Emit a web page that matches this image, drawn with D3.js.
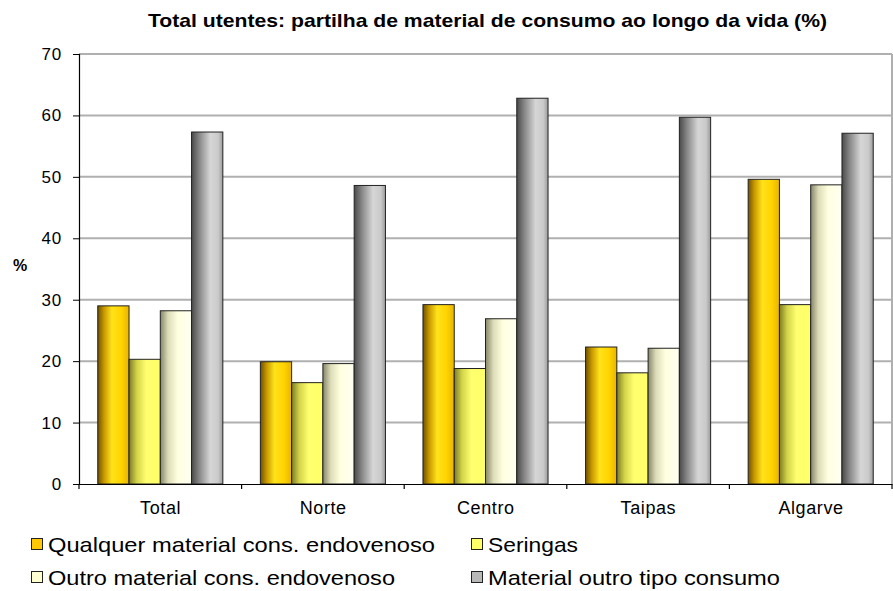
<!DOCTYPE html>
<html><head><meta charset="utf-8">
<script src="https://cdn.jsdelivr.net/npm/d3@7"></script>
<style>body{margin:0;background:#fff}svg{display:block;font-family:"Liberation Sans",Arial,sans-serif}</style>
</head><body><svg id="c" width="893" height="591"></svg>
<script>
const categories = ["Total","Norte","Centro","Taipas","Algarve"];
const seriesNames = ["Qualquer material cons. endovenoso","Seringas","Outro material cons. endovenoso","Material outro tipo consumo"];
const qualquer = [29.0, 19.9, 29.2, 22.3, 49.6];
const seringas = [20.3, 16.5, 18.8, 18.1, 29.2];
const outro    = [28.2, 19.6, 26.9, 22.1, 48.7];
const materialOutro = [57.3, 48.6, 62.8, 59.7, 57.1];
const yTicks = [0,10,20,30,40,50,60,70];
const series = [qualquer, seringas, outro, materialOutro];

const svg = d3.select("#c");
const m = {l:79, r:892, t:54, b:484};
const x0 = d3.scaleBand().domain(categories).range([m.l, m.r]).paddingInner(0).paddingOuter(0);
const x1 = d3.scaleBand().domain(d3.range(4)).range([0, x0.bandwidth()]).paddingInner(0).paddingOuter(0.6);
const y = d3.scaleLinear().domain([0,70]).range([m.b, m.t]);

// gradients
const defs = svg.append("defs");
const grads = [
  [["0%","#6e5200"],["20%","#c89800"],["45%","#ffe21a"],["75%","#ffd400"],["100%","#e8b400"]],
  [["0%","#7c7c28"],["25%","#d4d44a"],["55%","#ffff70"],["100%","#ffff66"]],
  [["0%","#86866a"],["25%","#dcdcb8"],["55%","#ffffe0"],["100%","#fffff2"]],
  [["0%","#4a4a4a"],["25%","#888888"],["60%","#d6d6d6"],["85%","#cacaca"],["100%","#9c9c9c"]]
];
grads.forEach((g,i)=>{
  const lg = defs.append("linearGradient").attr("id","g"+i).attr("x1","0").attr("x2","1").attr("y1","0").attr("y2","0");
  g.forEach(s=>lg.append("stop").attr("offset",s[0]).attr("stop-color",s[1]));
});
const legendFill = ["#ffc800","#ffff66","#ffffd0","#b8b8b8"];

// gridlines
svg.append("g").selectAll("line").data(yTicks.filter(d=>d>0)).join("line")
  .attr("x1",m.l).attr("x2",m.r).attr("y1",d=>y(d)).attr("y2",d=>y(d))
  .attr("stroke","#b0b0b0").attr("stroke-width",2);
// right border
svg.append("line").attr("x1",m.r).attr("x2",m.r).attr("y1",m.t).attr("y2",m.b).attr("stroke","#b0b0b0").attr("stroke-width",2);

// bars
const g = svg.append("g");
categories.forEach((c,ci)=>{
  series.forEach((s,si)=>{
    g.append("rect")
      .attr("x", x0(c)+x1(si))
      .attr("y", y(s[ci]))
      .attr("width", x1.bandwidth())
      .attr("height", y(0)-y(s[ci]))
      .attr("fill","url(#g"+si+")")
      .attr("stroke","#222").attr("stroke-width",1);
  });
});

// y axis
const ya = svg.append("g").attr("transform",`translate(${m.l},0)`)
  .call(d3.axisLeft(y).tickValues(yTicks).tickSize(6).tickPadding(11));
ya.select(".domain").attr("stroke","#000").attr("stroke-width",1.2);
ya.selectAll("text").attr("font-size",17).attr("fill","#000").attr("font-family","Liberation Sans, Arial").attr("letter-spacing",0.8);

// x axis
const xa = svg.append("g").attr("transform",`translate(0,${m.b})`)
  .call(d3.axisBottom(x0).tickSize(0).tickPadding(17));
xa.select(".domain").attr("stroke","#000").attr("stroke-width",1.2);
xa.selectAll("text").attr("font-size",18).attr("fill","#000").attr("font-family","Liberation Sans, Arial")
  .attr("letter-spacing",0.6).attr("dx",0.3);
svg.append("g").selectAll("line").data(categories.concat(["end"])).join("line")
  .attr("x1",(d,i)=>i<categories.length? x0(d): m.r).attr("x2",(d,i)=>i<categories.length? x0(d): m.r)
  .attr("y1",m.b).attr("y2",m.b+5).attr("stroke","#000").attr("stroke-width",1.2);

// title
svg.append("text").attr("x",148).attr("y",27)
  .attr("font-weight","bold").attr("font-size",19).attr("textLength",679).attr("lengthAdjust","spacingAndGlyphs")
  .text("Total utentes: partilha de material de consumo ao longo da vida (%)");
// y label
svg.append("text").attr("x",20).attr("y",271).attr("text-anchor","middle")
  .attr("font-weight","bold").attr("font-size",16).text("%");

// legend
const lpos = [[31,552,387],[471,552,90],[31,585,347],[471,585,292]];
seriesNames.forEach((n,i)=>{
  const [lx,ly,tl] = lpos[i];
  svg.append("rect").attr("x",lx+0.5).attr("y",ly-13.5).attr("width",11).attr("height",11)
    .attr("fill",legendFill[i]).attr("stroke","#222").attr("stroke-width",1);
  svg.append("text").attr("x",lx+17).attr("y",ly).attr("font-size",21)
    .attr("textLength",tl).attr("lengthAdjust","spacingAndGlyphs").text(n);
});
</script></body></html>
